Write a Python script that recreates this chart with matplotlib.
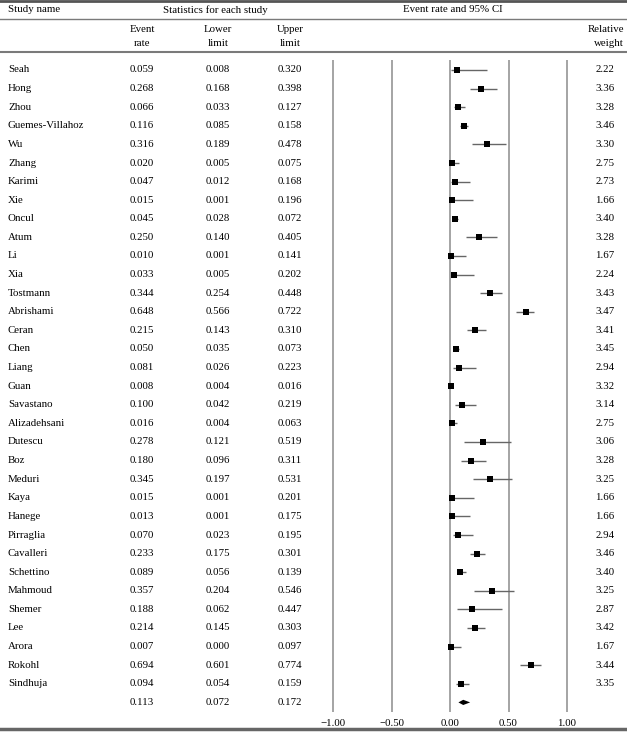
import matplotlib
matplotlib.use("Agg")
import matplotlib.pyplot as plt
import matplotlib.transforms as mtransforms

plt.rcParams['font.family'] = ['Liberation Serif', 'DejaVu Serif']
plt.rcParams['font.size'] = 7.8

names = ["Seah", "Hong", "Zhou", "Guemes-Villahoz", "Wu", "Zhang", "Karimi", "Xie",
         "Oncul", "Atum", "Li", "Xia", "Tostmann", "Abrishami", "Ceran", "Chen",
         "Liang", "Guan", "Savastano", "Alizadehsani", "Dutescu", "Boz", "Meduri",
         "Kaya", "Hanege", "Pirraglia", "Cavalleri", "Schettino", "Mahmoud",
         "Shemer", "Lee", "Arora", "Rokohl", "Sindhuja"]
rate = [0.059, 0.268, 0.066, 0.116, 0.316, 0.020, 0.047, 0.015, 0.045, 0.250,
        0.010, 0.033, 0.344, 0.648, 0.215, 0.050, 0.081, 0.008, 0.100, 0.016,
        0.278, 0.180, 0.345, 0.015, 0.013, 0.070, 0.233, 0.089, 0.357, 0.188,
        0.214, 0.007, 0.694, 0.094]
lower = [0.008, 0.168, 0.033, 0.085, 0.189, 0.005, 0.012, 0.001, 0.028, 0.140,
         0.001, 0.005, 0.254, 0.566, 0.143, 0.035, 0.026, 0.004, 0.042, 0.004,
         0.121, 0.096, 0.197, 0.001, 0.001, 0.023, 0.175, 0.056, 0.204, 0.062,
         0.145, 0.000, 0.601, 0.054]
upper = [0.320, 0.398, 0.127, 0.158, 0.478, 0.075, 0.168, 0.196, 0.072, 0.405,
         0.141, 0.202, 0.448, 0.722, 0.310, 0.073, 0.223, 0.016, 0.219, 0.063,
         0.519, 0.311, 0.531, 0.201, 0.175, 0.195, 0.301, 0.139, 0.546, 0.447,
         0.303, 0.097, 0.774, 0.159]
weight = [2.22, 3.36, 3.28, 3.46, 3.30, 2.75, 2.73, 1.66, 3.40, 3.28, 1.67, 2.24,
          3.43, 3.47, 3.41, 3.45, 2.94, 3.32, 3.14, 2.75, 3.06, 3.28, 3.25, 1.66,
          1.66, 2.94, 3.46, 3.40, 3.25, 2.87, 3.42, 1.67, 3.44, 3.35]
pooled_rate, pooled_lower, pooled_upper = 0.113, 0.072, 0.172
xticks = [-1.0, -0.5, 0.0, 0.5, 1.0]

W, H = 627, 732
fig = plt.figure(figsize=(W / 100, H / 100), dpi=100)

# overlay in pixel coords for the table layout
ax0 = fig.add_axes([0, 0, 1, 1])
ax0.set_xlim(0, W)
ax0.set_ylim(H, 0)
ax0.axis('off')

# forest plot axes
left_px, right_px, top_px, bot_px = 321.5, 578.5, 60, 712
ax = fig.add_axes([left_px / W, 1 - bot_px / H, (right_px - left_px) / W, (bot_px - top_px) / H])
unit = 117.0
ax.set_xlim(-1 - (333 - left_px) / unit, 1 + (right_px - 567) / unit)
row_h = 18.6
ax.set_ylim((bot_px - 70) / row_h, -(70 - top_px) / row_h)
for s in ax.spines.values():
    s.set_visible(False)
ax.set_yticks([])
ax.set_xticks(xticks)
ax.set_xticklabels([("%.2f" % t).replace("-", "\u2212") for t in xticks])
ax.tick_params(axis='x', length=0, pad=5, labelsize=7.8)
ax.patch.set_alpha(0)
for t in xticks:
    ax.axvline(t, color='#8c8c8c', lw=1.1, zorder=1)

n = len(names)
rows = list(range(n))
for i in rows:
    ax.plot([lower[i], upper[i]], [i, i], color='#666666', lw=1.0, zorder=2,
            solid_capstyle='butt')
ax.scatter(rate, rows, marker='s', color='black', s=14, lw=0, zorder=3)
ax.fill([pooled_lower, pooled_rate, pooled_upper, pooled_rate],
        [n, n - 0.14, n, n + 0.14], color='black', zorder=3, lw=0)

# table rows
tr = mtransforms.blended_transform_factory(ax0.transData, ax.transData)
for i in rows:
    ax0.text(8, i, names[i], transform=tr, ha='left', va='center')
    ax0.text(142, i, "%.3f" % rate[i], transform=tr, ha='center', va='center')
    ax0.text(218, i, "%.3f" % lower[i], transform=tr, ha='center', va='center')
    ax0.text(290, i, "%.3f" % upper[i], transform=tr, ha='center', va='center')
    ax0.text(605, i, "%.2f" % weight[i], transform=tr, ha='center', va='center')
ax0.text(142, n, "%.3f" % pooled_rate, transform=tr, ha='center', va='center')
ax0.text(218, n, "%.3f" % pooled_lower, transform=tr, ha='center', va='center')
ax0.text(290, n, "%.3f" % pooled_upper, transform=tr, ha='center', va='center')

# headers
ax0.text(8, 10, "Study name", ha='left', va='center')
ax0.text(215, 10, "Statistics for each study", ha='center', va='center')
ax0.text(453, 10, "Event rate and 95% CI", ha='center', va='center')
for x, a, b in [(142, "Event", "rate"), (218, "Lower", "limit"), (290, "Upper", "limit")]:
    ax0.text(x, 30, a, ha='center', va='center')
    ax0.text(x, 43, b, ha='center', va='center')
ax0.text(624, 30, "Relative", ha='right', va='center')
ax0.text(624, 43, "weight", ha='right', va='center')

ax0.axhline(1, color='#555555', lw=2.0)
ax0.axhline(19, color='#7a7a7a', lw=1.0)
ax0.axhline(52, color='#7a7a7a', lw=1.5)
ax0.axhline(729, color='#666666', lw=2.5)

fig.savefig('out.png', dpi=100)
